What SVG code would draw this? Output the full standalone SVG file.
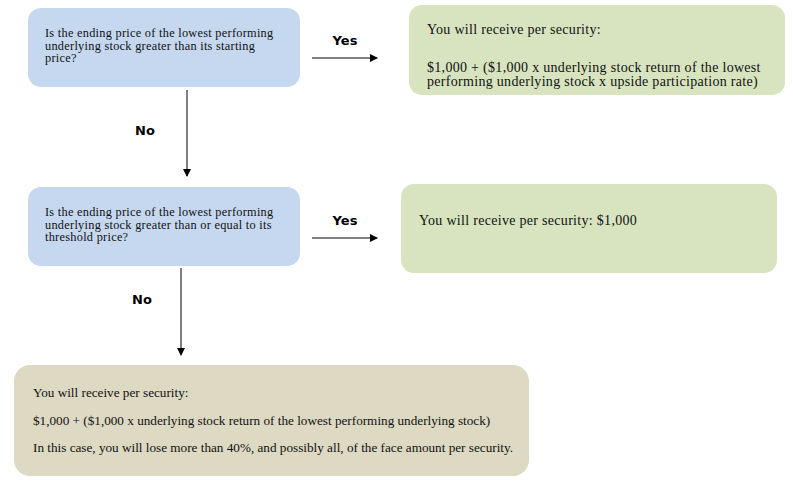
<svg xmlns="http://www.w3.org/2000/svg" width="793" height="493" viewBox="0 0 793 493">
<defs>
<marker id="ah" markerWidth="8" markerHeight="8" refX="7" refY="4" orient="auto" markerUnits="userSpaceOnUse">
<path d="M0,0 L8,4 L0,8 Z" fill="#000"/>
</marker>
<style>
.t{font-family:"Liberation Serif","Times New Roman",serif;fill:#111;}
.q{font-size:12.3px;letter-spacing:0.28px;}
.b{font-size:14px;letter-spacing:0.3px;}
.s{font-size:13.2px;}
.l{font-family:"DejaVu Sans","Liberation Sans",sans-serif;font-size:13px;font-weight:bold;fill:#000;}
.c{stroke:#000;stroke-width:1;fill:none;marker-end:url(#ah);}
.blue{fill:#c6d8f0;}
.green{fill:#d8e4bf;}
.tan{fill:#ddd9c3;}
</style>
</defs>
<rect width="793" height="493" fill="#fff"/>
<g id="q1">
<rect class="blue" x="28" y="8" width="272" height="79" rx="13"/>
<text class="t q" x="45" y="37">Is the ending price of the lowest performing</text>
<text class="t q" x="45" y="49.5">underlying stock greater than its starting</text>
<text class="t q" x="45" y="62">price?</text>
</g>
<g id="r1">
<rect class="green" x="409" y="5" width="376" height="90" rx="13"/>
<text class="t b" x="427" y="34">You will receive per security:</text>
<text class="t b" x="427" y="72">$1,000 + ($1,000 x underlying stock return of the lowest</text>
<text class="t b" x="427" y="86">performing underlying stock x upside participation rate)</text>
</g>
<g id="q2">
<rect class="blue" x="28" y="187" width="272" height="79" rx="13"/>
<text class="t q" x="45" y="216">Is the ending price of the lowest performing</text>
<text class="t q" x="45" y="228.5">underlying stock greater than or equal to its</text>
<text class="t q" x="45" y="241">threshold price?</text>
</g>
<g id="r2">
<rect class="green" x="401" y="184" width="376" height="89" rx="13"/>
<text class="t b" x="419" y="225">You will receive per security: $1,000</text>
</g>
<g id="r3">
<rect class="tan" x="14" y="365" width="515" height="111" rx="16"/>
<text class="t s" x="33" y="397">You will receive per security:</text>
<text class="t s" x="33" y="425">$1,000 + ($1,000 x underlying stock return of the lowest performing underlying stock)</text>
<text class="t s" x="33" y="452">In this case, you will lose more than 40%, and possibly all, of the face amount per security.</text>
</g>
<g id="connectors">
<line class="c" x1="312" y1="58" x2="377" y2="58"/>
<text class="l" x="345" y="45" text-anchor="middle">Yes</text>
<line class="c" x1="187" y1="90" x2="187" y2="176"/>
<text class="l" x="145" y="135" text-anchor="middle">No</text>
<line class="c" x1="312" y1="238" x2="377" y2="238"/>
<text class="l" x="345" y="225" text-anchor="middle">Yes</text>
<line class="c" x1="181" y1="268" x2="181" y2="355"/>
<text class="l" x="142" y="304" text-anchor="middle">No</text>
</g>
</svg>
